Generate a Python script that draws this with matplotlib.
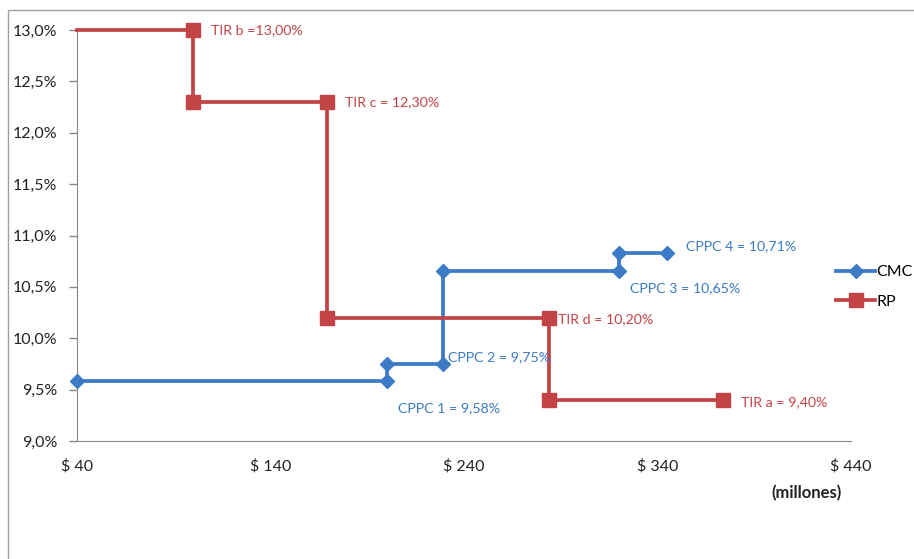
import matplotlib.pyplot as plt
from matplotlib.patches import Rectangle
from matplotlib.ticker import FuncFormatter

# Step series (every corner is a point)
cmc_x = [40, 200, 200, 229, 229, 320, 320, 345]
cmc_y = [9.58, 9.58, 9.75, 9.75, 10.65, 10.65, 10.83, 10.83]
rp_x = [40, 100, 100, 169, 169, 284, 284, 374]
rp_y = [13.0, 13.0, 12.3, 12.3, 10.2, 10.2, 9.4, 9.4]

# Point labels: (index of point, text)
cmc_labels = [(1, "CPPC 1 = 9,58%"), (3, "CPPC 2 = 9,75%"),
              (5, "CPPC 3 = 10,65%"), (7, "CPPC 4 = 10,71%")]
rp_labels = [(1, "TIR b =13,00%"), (3, "TIR c = 12,30%"),
             (5, "TIR d = 10,20%"), (7, "TIR a = 9,40%")]

x_ticks = [40, 140, 240, 340, 440]
y_ticks = [9.0, 9.5, 10.0, 10.5, 11.0, 11.5, 12.0, 12.5, 13.0]

blue = '#3C7BC6'
red = '#C24446'
plt.rcParams['font.family'] = ['Lato', 'DejaVu Sans']

fig = plt.figure(figsize=(9.14, 5.59), dpi=100)
# outer chart frame
fig.patches.append(Rectangle((8 / 914, -0.05), 1.1, 1 - 10 / 559 + 0.05,
                             transform=fig.transFigure, fill=False,
                             edgecolor='#A0A0A0', linewidth=1))

ax = fig.add_axes([77 / 914, 1 - 441 / 559, (851 - 77) / 914, (441 - 30) / 559])

ax.plot(cmc_x, cmc_y, color=blue, lw=2.7, marker='D', markersize=7.5,
        label='CMC', clip_on=False, zorder=3)
ax.plot(rp_x, rp_y, color=red, lw=2.7, marker='s', markersize=9.5,
        markevery=list(range(1, len(rp_x))), label='RP', clip_on=False, zorder=3)

cmc_off = [(11, -27), (5, 7), (11, -17), (19, 7)]
rp_off = [(18, 0), (18, 0), (9, -1), (18, -2)]
for (i, txt), off in zip(cmc_labels, cmc_off):
    ax.annotate(txt, (cmc_x[i], cmc_y[i]), xytext=off, textcoords='offset pixels',
                ha='left', va='center', color=blue, fontsize=10.2)
for (i, txt), off in zip(rp_labels, rp_off):
    ax.annotate(txt, (rp_x[i], rp_y[i]), xytext=off, textcoords='offset pixels',
                ha='left', va='center', color=red, fontsize=10.2)

ax.set_xlim(40, 440)
ax.set_ylim(9.0, 13.0)
ax.set_xticks(x_ticks)
ax.set_yticks(y_ticks)
ax.xaxis.set_major_formatter(FuncFormatter(lambda v, p: f"$ {v:.0f}"))
ax.yaxis.set_major_formatter(FuncFormatter(lambda v, p: f"{v:.1f}%".replace('.', ',')))
ax.tick_params(axis='x', length=0, pad=13, labelsize=11.5, colors='#222222')
ax.tick_params(axis='y', length=6, width=1, color='#888888', pad=8,
               labelsize=11.5, labelcolor='#222222')
for s in ['top', 'right']:
    ax.spines[s].set_visible(False)
for s in ['left', 'bottom']:
    ax.spines[s].set_color('#888888')

fig.text(806 / 914, 1 - 493 / 559, "(millones)", ha='center', va='center',
         fontsize=12, fontweight='bold', color='#222222')

ax.legend(loc='center left', bbox_to_anchor=(745 / 774, 0.375), frameon=False,
          fontsize=11.5, handlelength=2.4, handletextpad=0.1, labelspacing=0.95)

fig.savefig('out.png', dpi=100)
